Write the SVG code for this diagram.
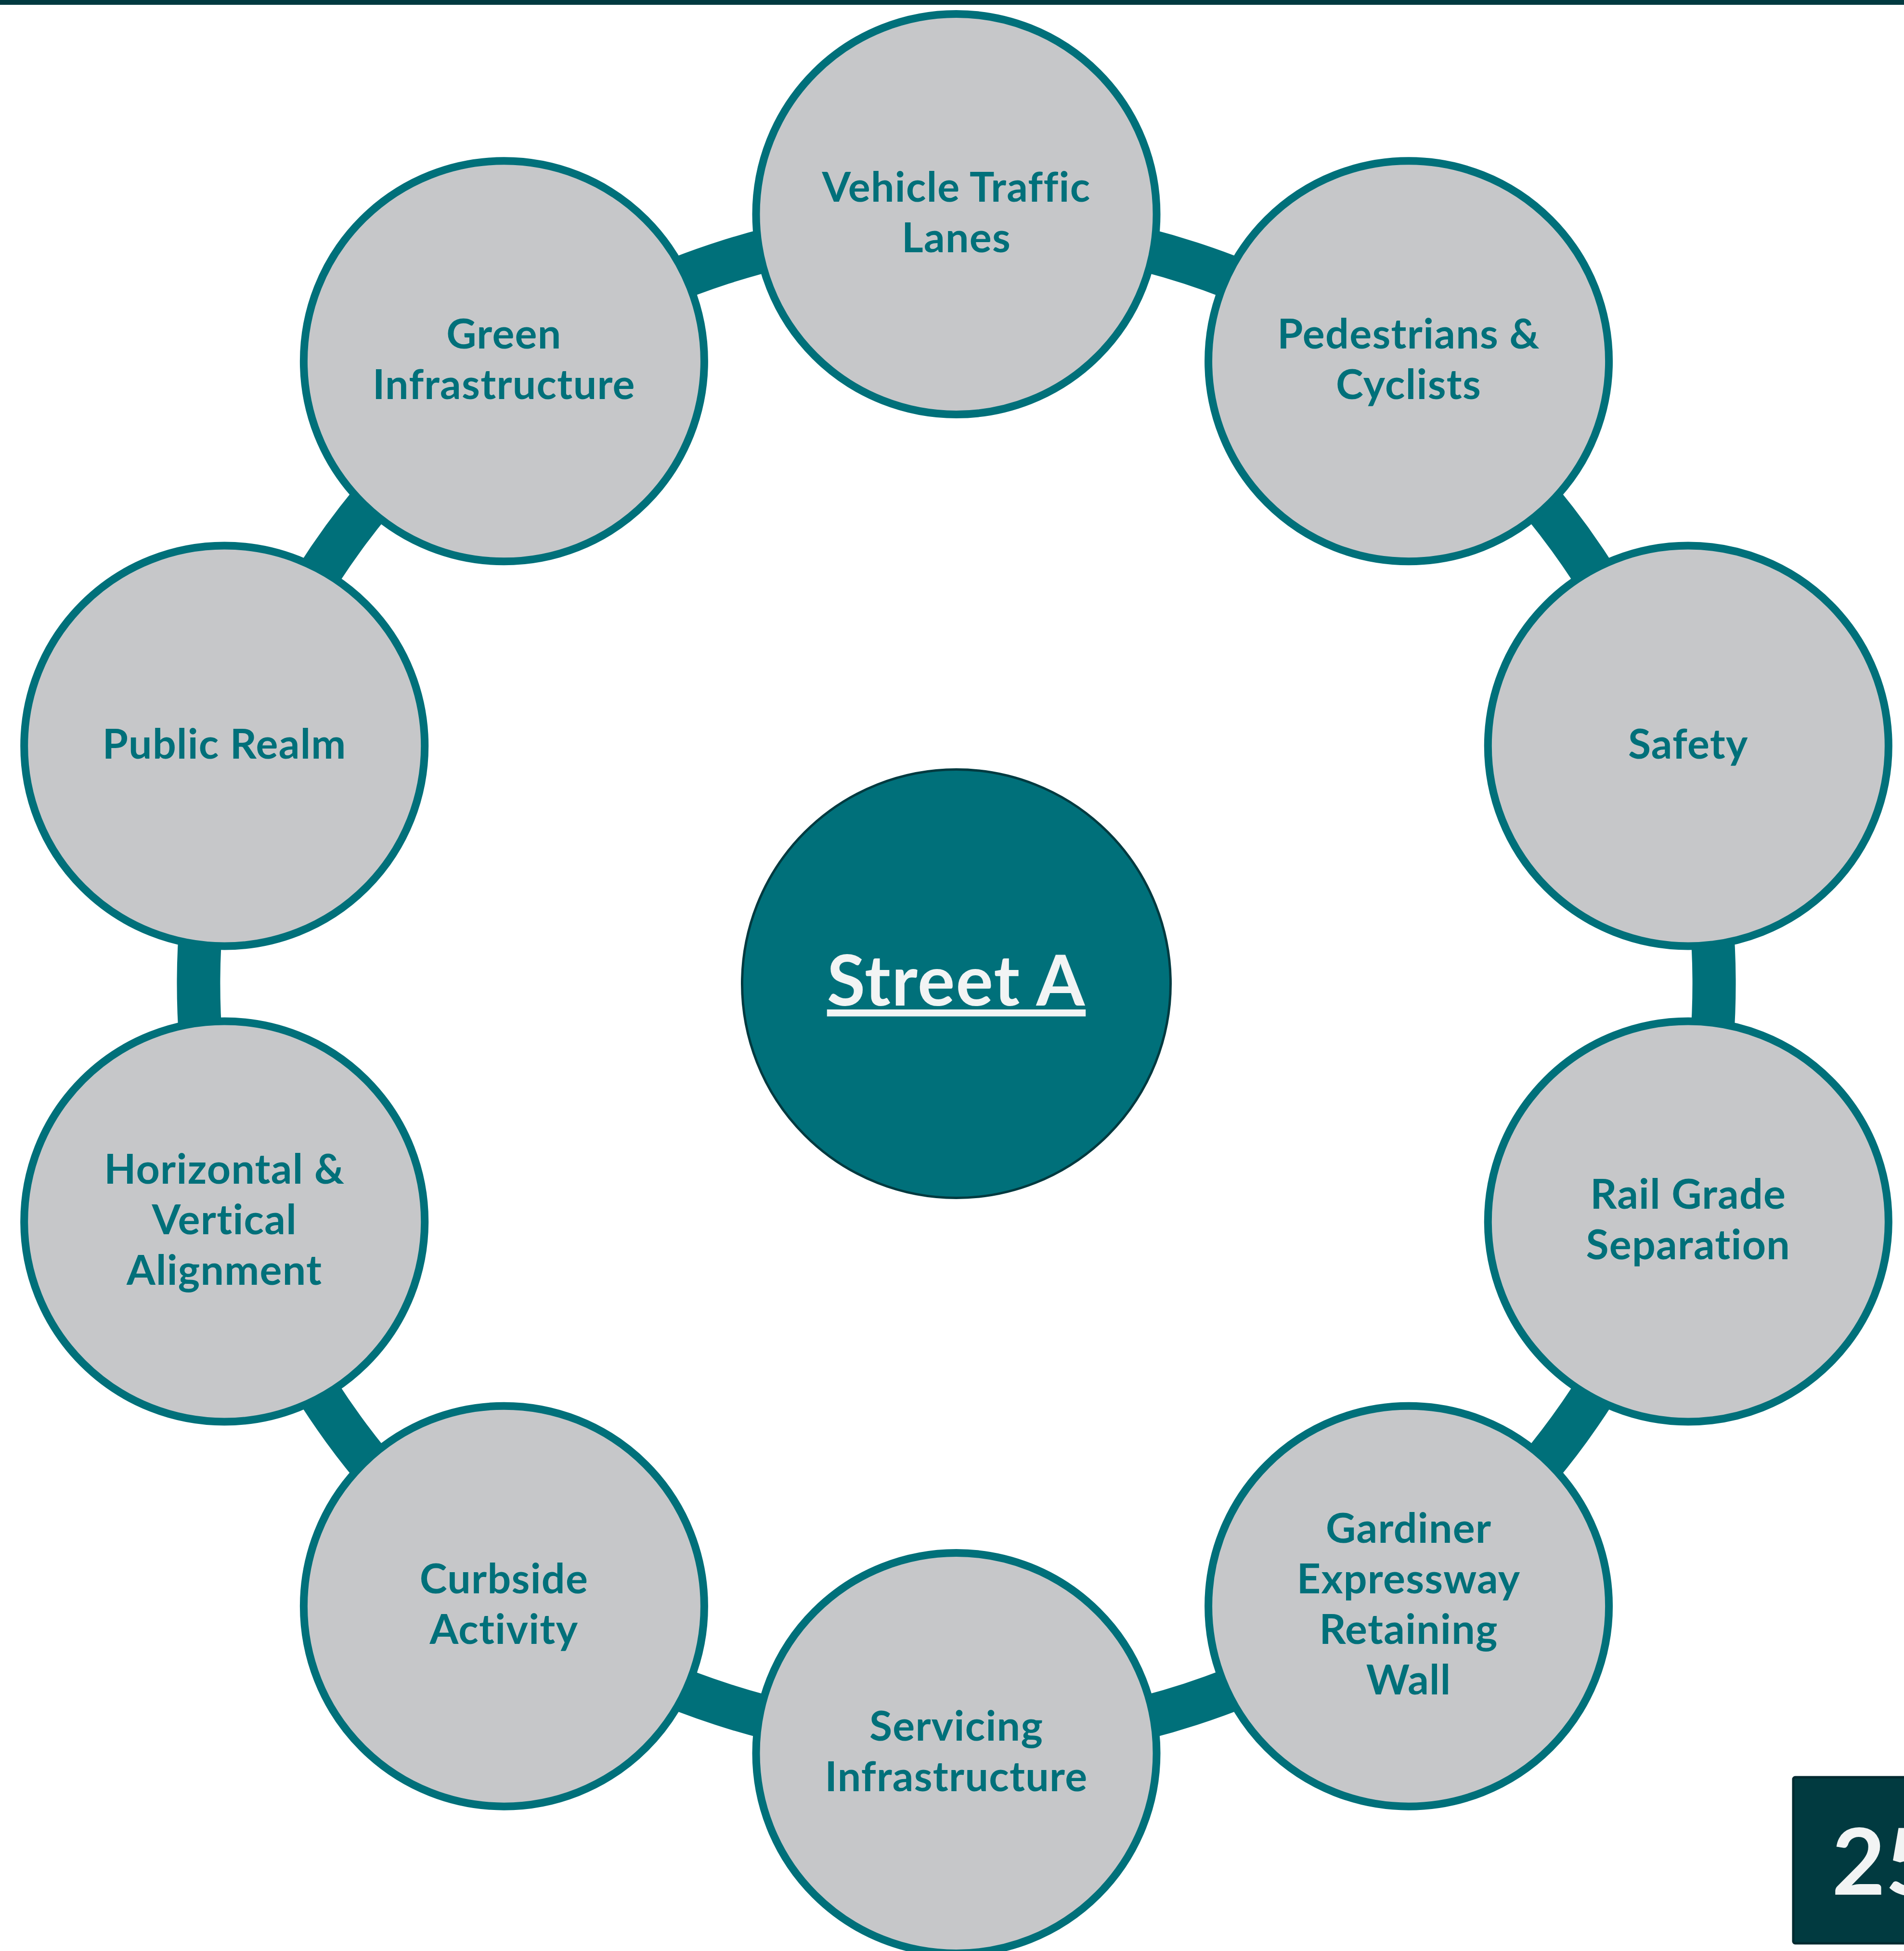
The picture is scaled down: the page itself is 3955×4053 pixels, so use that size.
<svg xmlns="http://www.w3.org/2000/svg" width="3955" height="4053" viewBox="0 0 3955 4053">
  <style>
    .ring { fill: none; stroke: #00707A; stroke-width: 90; stroke-linecap: butt; }
    .node circle { fill: #C6C7C9; stroke: #00707A; stroke-width: 16; }
    .node text { font-family: Lato, "Open Sans", "Liberation Sans", sans-serif; font-weight: 700; font-size: 86px; letter-spacing: 1.3px; font-variant-ligatures: none; fill: #00707A; text-anchor: middle; }
    .hub circle { fill: #00707A; stroke: #013A40; stroke-width: 5; }
    .hub text { font-family: Lato, "Open Sans", "Liberation Sans", sans-serif; font-weight: 700; font-size: 145px; letter-spacing: 2px; fill: #F2F4F4; text-anchor: middle; text-decoration: underline; }
    .badge rect { fill: #013A40; stroke: #002A30; stroke-width: 5; }
    .badge text { font-family: Lato, "Open Sans", "Liberation Sans", sans-serif; font-weight: 700; font-size: 192px; fill: #F2F4F4; }
  </style>

  <rect x="0" y="0" width="3955" height="4053" fill="#FFFFFF"/>
  <!-- header rule -->
  <rect x="0" y="0" width="3955" height="10" fill="#013A40"/>

  <!-- ring segments linking neighbouring topics -->
  <g id="connectors">
    <path class="ring" d="M1986.5 469.5 A1574 1574 0 0 1 2911.7 770.1"/>
    <path class="ring" d="M2911.7 770.1 A1574 1574 0 0 1 3483.5 1557.1"/>
    <path class="ring" d="M3483.5 1557.1 A1574 1574 0 0 1 3483.5 2529.9"/>
    <path class="ring" d="M3483.5 2529.9 A1574 1574 0 0 1 2911.7 3316.9"/>
    <path class="ring" d="M2911.7 3316.9 A1574 1574 0 0 1 1986.5 3617.5"/>
    <path class="ring" d="M1986.5 3617.5 A1574 1574 0 0 1 1061.3 3316.9"/>
    <path class="ring" d="M1061.3 3316.9 A1574 1574 0 0 1 489.5 2529.9"/>
    <path class="ring" d="M489.5 2529.9 A1574 1574 0 0 1 489.5 1557.1"/>
    <path class="ring" d="M489.5 1557.1 A1574 1574 0 0 1 1061.3 770.1"/>
    <path class="ring" d="M1061.3 770.1 A1574 1574 0 0 1 1986.5 469.5"/>
  </g>

  <!-- centre hub -->
  <g id="hub" class="hub">
    <circle cx="1986.5" cy="2043.5" r="445"/>
    <text x="1986.5" y="2089">Street A</text>
  </g>

  <!-- topic nodes, clockwise from the top -->
  <g id="node-vehicle-traffic" class="node">
    <circle cx="1986.5" cy="445" r="416"/>
    <text><tspan x="1986.5" y="418.5">Vehicle Traffic</tspan><tspan x="1986.5" y="523.5">Lanes</tspan></text>
  </g>
  <g id="node-pedestrians" class="node">
    <circle cx="2926.1" cy="750.3" r="416"/>
    <text><tspan x="2926.1" y="723.8">Pedestrians &amp;</tspan><tspan x="2926.1" y="828.8">Cyclists</tspan></text>
  </g>
  <g id="node-safety" class="node">
    <circle cx="3506.8" cy="1549.5" r="416"/>
    <text x="3506.8" y="1575.5">Safety</text>
  </g>
  <g id="node-rail-grade" class="node">
    <circle cx="3506.8" cy="2537.5" r="416"/>
    <text><tspan x="3506.8" y="2511">Rail Grade</tspan><tspan x="3506.8" y="2616">Separation</tspan></text>
  </g>
  <g id="node-gardiner" class="node">
    <circle cx="2926.1" cy="3336.7" r="416"/>
    <text><tspan x="2926.1" y="3205.2">Gardiner</tspan><tspan x="2926.1" y="3310.2">Expressway</tspan><tspan x="2926.1" y="3415.2">Retaining</tspan><tspan x="2926.1" y="3520.2">Wall</tspan></text>
  </g>
  <g id="node-servicing" class="node">
    <circle cx="1986.5" cy="3642" r="416"/>
    <text><tspan x="1986.5" y="3615.5">Servicing</tspan><tspan x="1986.5" y="3720.5">Infrastructure</tspan></text>
  </g>
  <g id="node-curbside" class="node">
    <circle cx="1046.9" cy="3336.7" r="416"/>
    <text><tspan x="1046.9" y="3310.2">Curbside</tspan><tspan x="1046.9" y="3415.2">Activity</tspan></text>
  </g>
  <g id="node-alignment" class="node">
    <circle cx="466.2" cy="2537.5" r="416"/>
    <text><tspan x="466.2" y="2458.5">Horizontal &amp;</tspan><tspan x="466.2" y="2563.5">Vertical</tspan><tspan x="466.2" y="2668.5">Alignment</tspan></text>
  </g>
  <g id="node-public-realm" class="node">
    <circle cx="466.2" cy="1549.5" r="416"/>
    <text x="466.2" y="1575.5">Public Realm</text>
  </g>
  <g id="node-green-infrastructure" class="node">
    <circle cx="1046.9" cy="750.3" r="416"/>
    <text><tspan x="1046.9" y="723.8">Green</tspan><tspan x="1046.9" y="828.8">Infrastructure</tspan></text>
  </g>

  <!-- page number tab -->
  <g id="page-number" class="badge">
    <rect x="3725" y="3692" width="260" height="345" rx="4"/>
    <text x="3805" y="3936">25</text>
  </g>
</svg>
